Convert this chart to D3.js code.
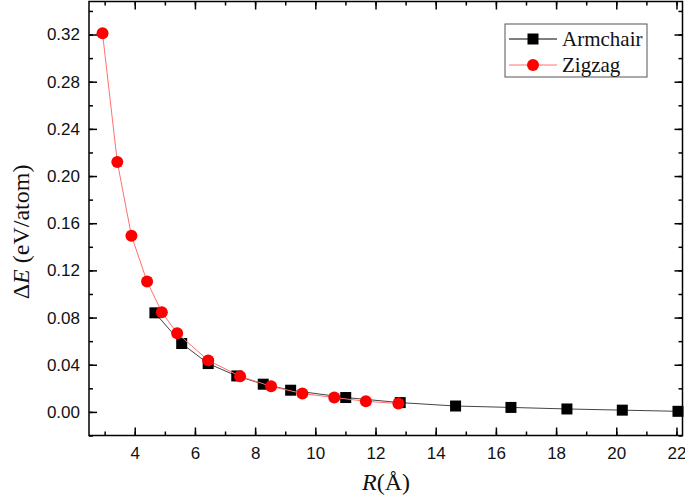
<!DOCTYPE html>
<html>
<head>
<meta charset="utf-8">
<script src="https://cdn.jsdelivr.net/npm/d3@7"></script>
<style>
  body { margin: 0; background: #fff; }
  svg { display: block; }
</style>
</head>
<body>
<script>
// data
var armchairR = [4.67, 5.56, 6.44, 7.39, 8.27, 9.18, 11.01, 12.82, 14.66, 16.5, 18.36, 20.2, 22.05];
var armchairE = [0.084, 0.058, 0.041, 0.0305, 0.0235, 0.0184, 0.0122, 0.0079, 0.0050, 0.0038, 0.0025, 0.0015, 0.0005];
var zigzagR = [2.93, 3.42, 3.89, 4.41, 4.90, 5.41, 6.44, 7.50, 8.53, 9.57, 10.63, 11.68, 12.76];
var zigzagE = [0.321, 0.212, 0.1494, 0.1105, 0.0845, 0.0668, 0.0437, 0.0302, 0.0217, 0.0156, 0.0122, 0.0090, 0.0071];
var xTicks = [4, 6, 8, 10, 12, 14, 16, 18, 20, 22];
var yTicks = [0, 0.04, 0.08, 0.12, 0.16, 0.20, 0.24, 0.28, 0.32];
var seriesNames = ["Armchair", "Zigzag"];

var width = 685, height = 503;
//plot frame edges (pixels)
var pLeft = 89, pRight = 682.5, pTop = 1.5, pBottom = 435.5;

var svg = d3.select("body").append("svg")
    .attr("width", width)
    .attr("height", height);

var x = d3.scaleLinear().domain([2.48, 22.2]).range([pLeft, pRight]);
var y = d3.scaleLinear().domain([-0.02, 0.348]).range([pBottom, pTop]);

var xMinor = d3.range(3, 22.2, 1);
var yMinor = d3.range(-0.02, 0.35, 0.02);

function styleAxis(g) {
    g.selectAll("path").remove();
    g.selectAll("line").attr("stroke", "#000").attr("stroke-width", 1.5);
    g.selectAll("text")
        .attr("font-family", "'Liberation Sans', Arial, sans-serif")
        .attr("font-size", 17)
        .attr("fill", "#111");
}

//minor ticks on all four sides
svg.append("g").attr("transform", "translate(0," + pBottom + ")")
    .call(d3.axisBottom(x).tickValues(xMinor).tickSize(-4).tickFormat(""))
    .call(styleAxis);
svg.append("g").attr("transform", "translate(0," + pTop + ")")
    .call(d3.axisTop(x).tickValues(xMinor).tickSize(-4).tickFormat(""))
    .call(styleAxis);
svg.append("g").attr("transform", "translate(" + pLeft + ",0)")
    .call(d3.axisLeft(y).tickValues(yMinor).tickSize(-4).tickFormat(""))
    .call(styleAxis);
svg.append("g").attr("transform", "translate(" + pRight + ",0)")
    .call(d3.axisRight(y).tickValues(yMinor).tickSize(-4).tickFormat(""))
    .call(styleAxis);

//major ticks
svg.append("g").attr("transform", "translate(0," + pBottom + ")")
    .call(d3.axisBottom(x).tickValues(xTicks).tickSize(-8).tickPadding(11).tickFormat(d3.format("d")))
    .call(styleAxis);
svg.append("g").attr("transform", "translate(0," + pTop + ")")
    .call(d3.axisTop(x).tickValues(xTicks).tickSize(-8).tickFormat(""))
    .call(styleAxis);
svg.append("g").attr("transform", "translate(" + pLeft + ",0)")
    .call(d3.axisLeft(y).tickValues(yTicks).tickSize(-8).tickPadding(9).tickFormat(d3.format(".2f")))
    .call(styleAxis);
svg.append("g").attr("transform", "translate(" + pRight + ",0)")
    .call(d3.axisRight(y).tickValues(yTicks).tickSize(-8).tickFormat(""))
    .call(styleAxis);

//frame
svg.append("rect")
    .attr("x", pLeft).attr("y", pTop)
    .attr("width", pRight - pLeft).attr("height", pBottom - pTop)
    .attr("fill", "none").attr("stroke", "#000").attr("stroke-width", 1.5);

var line = d3.line().x(function(d){ return x(d[0]); }).y(function(d){ return y(d[1]); });

var armData = armchairR.map(function(r, i){ return [r, armchairE[i]]; });
var zigData = zigzagR.map(function(r, i){ return [r, zigzagE[i]]; });

svg.append("path").datum(armData)
    .attr("d", line).attr("fill", "none")
    .attr("stroke", "#444").attr("stroke-width", 1);
svg.selectAll(".arm").data(armData).enter().append("rect")
    .attr("class", "arm")
    .attr("x", function(d){ return x(d[0]) - 5.5; })
    .attr("y", function(d){ return y(d[1]) - 5.5; })
    .attr("width", 11).attr("height", 11)
    .attr("fill", "#000");

svg.append("path").datum(zigData)
    .attr("d", line).attr("fill", "none")
    .attr("stroke", "#ff7070").attr("stroke-width", 1);
svg.selectAll(".zig").data(zigData).enter().append("circle")
    .attr("class", "zig")
    .attr("cx", function(d){ return x(d[0]); })
    .attr("cy", function(d){ return y(d[1]); })
    .attr("r", 6)
    .attr("fill", "#ff0000");

//legend
var legend = svg.append("g");
legend.append("rect")
    .attr("x", 505).attr("y", 24).attr("width", 142).attr("height", 53)
    .attr("fill", "#fff").attr("stroke", "#555").attr("stroke-width", 1);
var legY = [39, 65];
legend.append("line").attr("x1", 509).attr("x2", 557).attr("y1", legY[0]).attr("y2", legY[0])
    .attr("stroke", "#000").attr("stroke-width", 1);
legend.append("rect").attr("x", 527.5).attr("y", legY[0] - 5.5).attr("width", 11).attr("height", 11)
    .attr("fill", "#000");
legend.append("line").attr("x1", 509).attr("x2", 557).attr("y1", legY[1]).attr("y2", legY[1])
    .attr("stroke", "#ff7070").attr("stroke-width", 1);
legend.append("circle").attr("cx", 533).attr("cy", legY[1]).attr("r", 6).attr("fill", "#ff0000");
legend.selectAll("text").data(seriesNames).enter().append("text")
    .attr("x", 562)
    .attr("y", function(d, i){ return legY[i] + 7; })
    .attr("font-family", "'Liberation Serif', 'Times New Roman', serif")
    .attr("font-size", 21)
    .attr("fill", "#111")
    .text(function(d){ return d; });

//axis titles
var xt = svg.append("text")
    .attr("x", 386).attr("y", 490)
    .attr("text-anchor", "middle")
    .attr("font-family", "'Liberation Serif', 'Times New Roman', serif")
    .attr("font-size", 24)
    .attr("fill", "#111");
xt.append("tspan").attr("font-style", "italic").text("R");
xt.append("tspan").text("(Å)");

var yt = svg.append("text")
    .attr("transform", "translate(29,232) rotate(-90)")
    .attr("text-anchor", "middle")
    .attr("font-family", "'Liberation Serif', 'Times New Roman', serif")
    .attr("font-size", 24)
    .attr("fill", "#111");
yt.append("tspan").text("Δ");
yt.append("tspan").attr("font-style", "italic").text("E");
yt.append("tspan").text(" (eV/atom)");
</script>
</body>
</html>
